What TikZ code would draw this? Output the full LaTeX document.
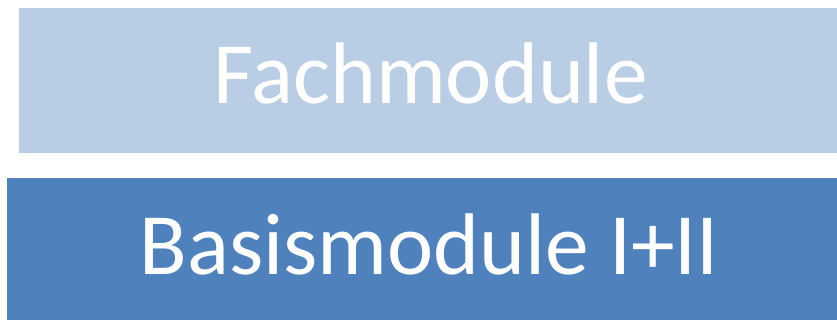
\documentclass[tikz,border=0pt]{standalone}
\usepackage{fontspec}
\setmainfont{Carlito}
\definecolor{lightbox}{HTML}{B9CDE5}
\definecolor{darkbox}{HTML}{4F81BD}
\tikzset{
  box/.style={inner sep=0pt, outer sep=0pt},
  label/.style={text=white, font=\fontsize{87.5}{100}\selectfont, anchor=base, inner sep=0pt}
}
\begin{document}
\begin{tikzpicture}[x=1pt,y=1pt]
\useasboundingbox (0,0) rectangle (837,320);
\fill[lightbox] (19,167.3) rectangle (837,312);
\fill[darkbox] (7.3,0) rectangle (837,141.7);
\node[label] (top) at (430.5,216) {Fachmodule};
\node[label] (bottom) at (429.5,45) {Basismodule I+II};
\end{tikzpicture}
\end{document}
